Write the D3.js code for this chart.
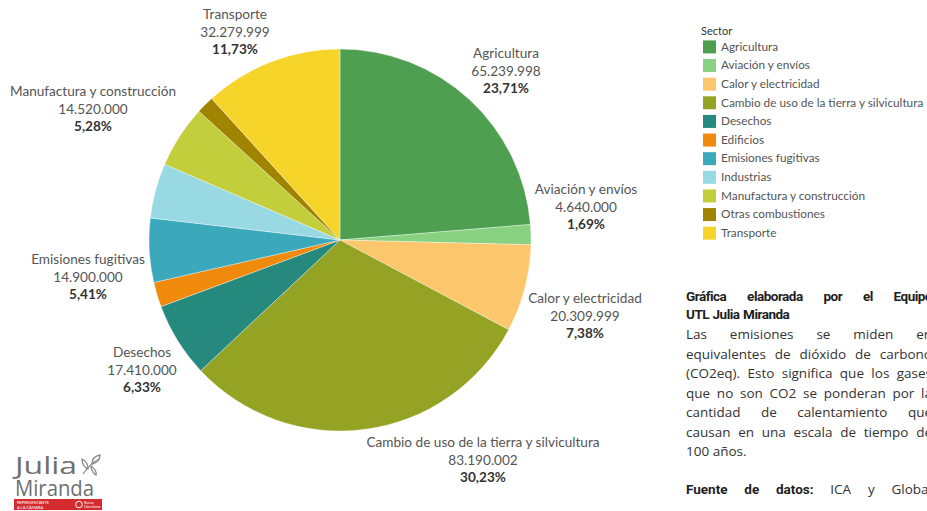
<!DOCTYPE html>
<html>
<head>
<meta charset="utf-8">
<script src="https://cdn.jsdelivr.net/npm/d3@7"></script>
<style>
  html, body { margin: 0; padding: 0; background: #fff; overflow: hidden; }
  svg { display: block; }
</style>
</head>
<body>
<svg id="chart" width="927" height="511"></svg>
<script>
// ==================================
// DATA
// ==================================
const sectors = [
    "Agricultura", "Aviación y envíos", "Calor y electricidad",
    "Cambio de uso de la tierra y silvicultura", "Desechos", "Edificios",
    "Emisiones fugitivas", "Industrias", "Manufactura y construcción",
    "Otras combustiones", "Transporte"
];
const emissions = [65239998, 4640000, 20309999, 83190002, 17410000, 5780000,
                   14900000, 12790000, 14520000, 4130000, 32279999];
const sectorColors = ["#4e9f50", "#87d180", "#fcc66d", "#94a323", "#26897e", "#ef8a0c",
                      "#3ca8bc", "#98d9e4", "#c3ce3d", "#a08400", "#f7d42a"];
// sectors that carry a label on the pie
const labelledSectors = ["Agricultura", "Aviación y envíos", "Calor y electricidad",
    "Cambio de uso de la tierra y silvicultura", "Desechos", "Emisiones fugitivas",
    "Manufactura y construcción", "Transporte"];

// text blocks on the right
const noteTitle = ["Gráfica elaborada por el Equipo", "UTL Julia Miranda"];
const noteBody = ["Las emisiones se miden en", "equivalentes de dióxido de carbono",
    "(CO2eq). Esto significa que los gases", "que no son CO2 se ponderan por la",
    "cantidad de calentamiento que", "causan en una escala de tiempo de", "100 años."];

// ==================================
// LAYOUT
// ==================================
const CX = 340, CY = 240, R = 191;
const labelFont = "Lato, 'Open Sans', sans-serif";
const noteFont = "'Open Sans', Lato, sans-serif";
const boldFont = "Roboto, 'Open Sans', sans-serif";
// label anchor (centre x, first baseline) - Tableau places these by hand
const labelPos = {
    "Agricultura": [506, 58],
    "Aviación y envíos": [586, 194],
    "Calor y electricidad": [585, 303],
    "Cambio de uso de la tierra y silvicultura": [483, 447],
    "Desechos": [142, 357],
    "Emisiones fugitivas": [88, 264],
    "Manufactura y construcción": [93, 96],
    "Transporte": [235, 19]
};

const svg = d3.select("#chart");

const locale = d3.formatLocale({decimal: ",", thousands: ".", grouping: [3], currency: ["$", ""]});
const fmtNum = locale.format(",");
const fmtPct = locale.format(".2%");

const color = d3.scaleOrdinal().domain(sectors).range(sectorColors);
const total = d3.sum(emissions);
const rows = sectors.map((s, i) => ({sector: s, value: emissions[i]}));

// ==================================
// PIE
// ==================================
const pie = d3.pie().sort(null).value(d => d.value);
const arc = d3.arc().innerRadius(0).outerRadius(R);

svg.append("g")
    .attr("transform", `translate(${CX},${CY})`)
    .selectAll("path")
    .data(pie(rows))
    .enter()
    .append("path")
    .attr("d", arc)
    .attr("fill", d => color(d.data.sector))
    .attr("stroke", "#ffffff")
    .attr("stroke-width", 0.6)
    .attr("stroke-opacity", 0.6);

// labels
const labels = svg.append("g").selectAll("text")
    .data(rows.filter(d => labelledSectors.includes(d.sector)))
    .enter()
    .append("text")
    .attr("text-anchor", "middle")
    .style("font-family", labelFont)
    .style("font-size", "13.6px")
    .attr("transform", d => `translate(${labelPos[d.sector][0]},${labelPos[d.sector][1]})`);

labels.append("tspan").attr("x", 0).attr("y", 0).attr("fill", "#555").text(d => d.sector);
labels.append("tspan").attr("x", 0).attr("y", 17.5).attr("fill", "#555").text(d => fmtNum(d.value));
labels.append("tspan").attr("x", 0).attr("y", 35).attr("fill", "#333")
    .style("font-weight", "bold").text(d => fmtPct(d.value / total));

// ==================================
// LEGEND
// ==================================
const legend = svg.append("g").attr("transform", "translate(702,0)");
legend.append("text")
    .attr("x", -1).attr("y", 35)
    .style("font-family", labelFont).style("font-size", "11px")
    .attr("fill", "#333").text("Sector");

const legendY = d3.scalePoint().domain(sectors).range([46.7, 233]);
const item = legend.selectAll("g.item")
    .data(sectors)
    .enter().append("g")
    .attr("class", "item")
    .attr("transform", d => `translate(0,${legendY(d)})`);
item.append("rect")
    .attr("x", 1).attr("y", -6.3).attr("width", 13).attr("height", 13)
    .attr("fill", d => color(d));
item.append("text")
    .attr("x", 19).attr("y", 4)
    .style("font-family", labelFont).style("font-size", "11.8px")
    .attr("fill", "#555").text(d => d);

// ==================================
// NOTE (justified lines)
// ==================================
const NOTE_X = 686, NOTE_W = 246;

function justifyLine(text, y, bold, justify, fill) {
    const g = svg.append("g");
    const words = text.split(" ");
    const nodes = words.map(w => g.append("text")
        .attr("y", y)
        .style("font-family", bold ? boldFont : noteFont)
        .style("font-size", bold ? "13.5px" : "13.5px")
        .style("font-weight", bold ? 700 : 400)
        .style("letter-spacing", bold ? "-0.5px" : "0px")
        .attr("fill", fill)
        .text(w));
    const widths = nodes.map(n => n.node().getComputedTextLength());
    const space = 3.5;
    const gap = justify && words.length > 1
        ? (NOTE_W - d3.sum(widths)) / (words.length - 1) : space;
    let x = NOTE_X;
    nodes.forEach((n, i) => { n.attr("x", x); x += widths[i] + gap; });
    return g;
}

justifyLine(noteTitle[0], 301, true, true, "#1e1e1e");
justifyLine(noteTitle[1], 319, true, false, "#1e1e1e");
noteBody.forEach((line, i) => {
    justifyLine(line, 339 + i * 19.5, false, i < noteBody.length - 1, "#333");
});

// source line: bold lead + normal text, justified across the block
(function() {
    const parts = [["Fuente", true], ["de", true], ["datos:", true], ["ICA", false], ["y", false], ["Global", false]];
    const nodes = parts.map(p => svg.append("text")
        .attr("y", 494)
        .style("font-family", p[1] ? boldFont : noteFont)
        .style("font-size", "13.5px")
        .style("font-weight", p[1] ? 700 : 400)
        .attr("fill", p[1] ? "#1e1e1e" : "#333")
        .text(p[0]));
    const widths = nodes.map(n => n.node().getComputedTextLength());
    const gap = (NOTE_W - d3.sum(widths)) / (parts.length - 1);
    let x = NOTE_X;
    nodes.forEach((n, i) => { n.attr("x", x); x += widths[i] + gap; });
})();

// ==================================
// LOGO
// ==================================
const logo = svg.append("g");
logo.append("text").attr("x", 15).attr("y", 474)
    .style("font-family", "'Open Sans', sans-serif").style("font-size", "24px")
    .attr("textLength", 62).attr("lengthAdjust", "spacingAndGlyphs")
    .attr("fill", "#707070").text("Julia");
logo.append("text").attr("x", 15).attr("y", 496)
    .style("font-family", "'Open Sans', sans-serif").style("font-size", "22px")
    .attr("textLength", 79).attr("lengthAdjust", "spacingAndGlyphs")
    .attr("fill", "#707070").text("Miranda");
// leaf
const leaf = logo.append("g").attr("transform", "translate(82,456)")
    .attr("fill", "none").attr("stroke", "#8a8a8a").attr("stroke-width", 1.3);
leaf.append("path").attr("d", "M1,18 C5,12 10,7 17,3");
leaf.append("path").attr("d", "M10,8 C10,3 13,0 18,-1 C18,4 15,7 10,8 Z");
leaf.append("path").attr("d", "M6,13 C2,11 0,7 0,3 C4,5 6,9 6,13 Z");
leaf.append("path").attr("d", "M9,10 C12,12 15,16 14,19 C11,17 9,14 9,10 Z");
// red band
logo.append("rect").attr("x", 14).attr("y", 499).attr("width", 88).attr("height", 11).attr("fill", "#d52b2f");
logo.append("text").attr("x", 17).attr("y", 503.8)
    .style("font-family", labelFont).style("font-size", "4px").attr("fill", "#fff").text("REPRESENTANTE");
logo.append("text").attr("x", 17).attr("y", 508.6)
    .style("font-family", labelFont).style("font-size", "4px").attr("fill", "#fff").text("A LA CÁMARA");
logo.append("circle").attr("cx", 79).attr("cy", 504.5).attr("r", 3.3)
    .attr("fill", "none").attr("stroke", "#fff").attr("stroke-width", 1);
logo.append("text").attr("x", 84).attr("y", 503.8)
    .style("font-family", labelFont).style("font-size", "3.3px").attr("fill", "#fff").text("Nuevo");
logo.append("text").attr("x", 84).attr("y", 508.2)
    .style("font-family", labelFont).style("font-size", "3.3px").attr("fill", "#fff").text("Liberalismo");
</script>
</body>
</html>
